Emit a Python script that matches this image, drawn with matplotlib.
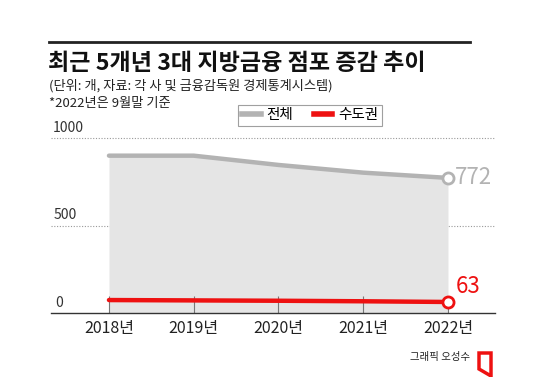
import matplotlib.pyplot as plt
from matplotlib.patches import Polygon
from matplotlib.lines import Line2D

plt.rcParams['font.family'] = ['Noto Sans CJK KR', 'DejaVu Sans']

years = ["2018년", "2019년", "2020년", "2021년", "2022년"]
total = [899, 899, 846, 802, 772]
capital = [74, 72, 70, 67, 63]
y_ticks = [0, 500, 1000]

W, H = 550, 377
GREY = "#b3b3b3"
FILL = "#e5e5e5"
RED = "#ee1111"


def fx(px):
    return px / W


def fy(py):
    return 1 - py / H


fig = plt.figure(figsize=(5.5, 3.77), dpi=100)
ax = fig.add_axes([fx(51), fy(313), fx(495) - fx(51), fy(138) - fy(313)])

x = list(range(len(years)))
ax.set_xlim(-0.684, 4.555)
ax.set_ylim(0, 1000)

ax.fill_between(x, total, 0, color=FILL, lw=0, zorder=1)
ax.plot(x, total, color=GREY, lw=3.2, solid_capstyle='round', zorder=3)
ax.plot(x, capital, color=RED, lw=3.2, solid_capstyle='round', zorder=4)
ax.plot(x[-1], total[-1], 'o', ms=8, mfc='white', mec=GREY, mew=2, zorder=5)
ax.plot(x[-1], capital[-1], 'o', ms=8, mfc='white', mec=RED, mew=2, zorder=5)

# gridlines
for v in y_ticks[1:]:
    ax.axhline(v, color='#999999', lw=0.8, ls=(0, (1, 1.5)), zorder=0, clip_on=False)
    ax.text(0.005, v + 18, str(v), transform=ax.get_yaxis_transform(),
            fontsize=10, color='#333333', ha='left', va='bottom')
ax.text(0.01, 18, "0", transform=ax.get_yaxis_transform(),
        fontsize=10, color='#333333', ha='left', va='bottom')

# end labels
ax.text(x[-1] + 0.08, total[-1], str(total[-1]), fontsize=16, color=GREY,
        ha='left', va='center')
ax.text(x[-1] + 0.09, capital[-1] + 20, str(capital[-1]), fontsize=16, color=RED,
        ha='left', va='bottom')

for s in ['top', 'right', 'left']:
    ax.spines[s].set_visible(False)
ax.spines['bottom'].set_color('#333333')
ax.spines['bottom'].set_linewidth(1)
ax.set_yticks([])
ax.set_xticks(x)
ax.set_xticklabels(years, fontsize=11.5, color='#222222')
ax.tick_params(axis='x', direction='in', length=12, width=0.8, color='#777777', pad=5)

# legend
handles = [Line2D([], [], color=GREY, lw=4), Line2D([], [], color=RED, lw=4)]
leg = fig.legend(handles, ["전체", "수도권"], ncol=2, loc='center',
                 bbox_to_anchor=(fx(310), fy(115.5)), fontsize=10.5,
                 frameon=True, fancybox=False, handlelength=1.3,
                 handletextpad=0.4, columnspacing=1.4, borderpad=0.25)
leg.get_frame().set_edgecolor('#888888')
leg.get_frame().set_linewidth(0.8)

# header
fig.add_artist(Line2D([fx(49), fx(470)], [fy(42), fy(42)], color='#222222', lw=2))
fig.text(fx(48), fy(63), "최근 5개년 3대 지방금융 점포 증감 추이", fontsize=16.6,
         fontweight='bold', color='#111111', ha='left', va='center')
fig.text(fx(49), fy(86), "(단위: 개, 자료: 각 사 및 금융감독원 경제통계시스템)", fontsize=9.5,
         color='#222222', ha='left', va='center')
fig.text(fx(49), fy(103), "*2022년은 9월말 기준", fontsize=9.5,
         color='#222222', ha='left', va='center')

# credit
fig.text(fx(470), fy(357), "그래픽 오성수", fontsize=7.5, color='#222222',
         ha='right', va='center')
logo = Polygon([(fx(479), fy(353)), (fx(491), fy(353)), (fx(491), fy(376)), (fx(479), fy(369))],
               closed=True, fill=False, edgecolor=RED, lw=2.5, transform=fig.transFigure)
fig.add_artist(logo)

fig.savefig("out.png", dpi=100, facecolor='white')
